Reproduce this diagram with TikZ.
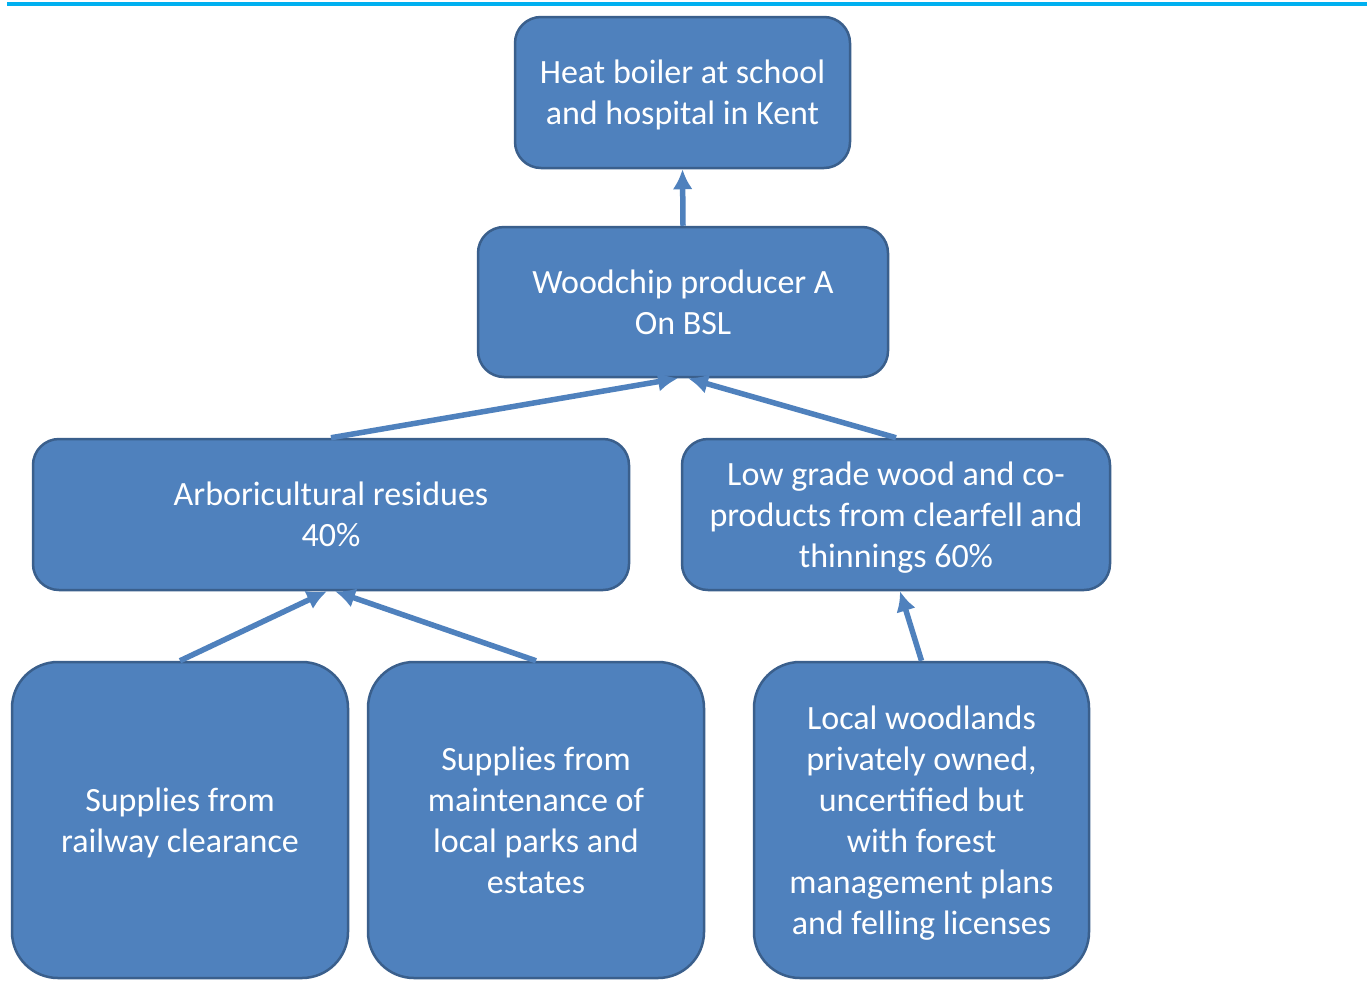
\documentclass[tikz,border=0pt]{standalone}
\usepackage{fontspec}
\setmainfont{Carlito}
\usetikzlibrary{arrows.meta}
\definecolor{boxfill}{HTML}{4F81BD}
\definecolor{boxline}{HTML}{3A5F8C}
\definecolor{topline}{HTML}{00B0F0}
\newcommand{\btxt}[1]{\raisebox{-3.5pt}[\height][\depth]{\begin{tabular}{@{}c@{}}#1\end{tabular}}}
\begin{document}
\begin{tikzpicture}[x=1pt,y=-1pt,
  box/.style={rectangle, rounded corners=26pt, fill=boxfill, draw=boxline, line width=2.5pt,
    text=white, inner sep=0pt,
    font=\fontsize{34}{41}\selectfont},
  bigbox/.style={box, rounded corners=46pt},
  conn/.style={draw=boxfill, line width=5.5pt, -{Latex[length=20pt,width=20pt]}}
]
\useasboundingbox (0,0) rectangle (1367,980);
\fill[white] (0,0) rectangle (1367,980);
\draw[topline, line width=4pt] (7,3.5) -- (1367,3.5);

\node[box, minimum width=335pt, minimum height=151pt] (heat) at (682.5,92.5)
  {\btxt{Heat boiler at school\\and hospital in Kent}};
\node[box, minimum width=410pt, minimum height=150pt] (wood) at (683,302)
  {\btxt{Woodchip producer A\\On BSL}};
\node[box, minimum width=596pt, minimum height=151pt] (arb) at (331,514.5)
  {\btxt{Arboricultural residues\\40\%}};
\node[box, minimum width=428pt, minimum height=151pt] (low) at (896,514.5)
  {\btxt{Low grade wood and co-\\products from clearfell and\\thinnings 60\%}};
\node[bigbox, minimum width=336pt, minimum height=316pt] (rail) at (180,820)
  {\btxt{Supplies from\\railway clearance}};
\node[bigbox, minimum width=336pt, minimum height=316pt] (parks) at (536,820)
  {\btxt{Supplies from\\maintenance of\\local parks and\\estates}};
\node[bigbox, minimum width=335pt, minimum height=316pt] (woods) at (921.5,820)
  {\btxt{Local woodlands\\privately owned,\\uncertified but\\with forest\\management plans\\and felling licenses}};

\draw[conn] (wood.north) -- (heat.south);
\draw[conn] (arb.north) -- ([xshift=-5pt]wood.south);
\draw[conn] (low.north) -- ([xshift=5pt]wood.south);
\draw[conn] (rail.north) -- ([xshift=-4pt]arb.south);
\draw[conn] (parks.north) -- ([xshift=4pt]arb.south);
\draw[conn] (woods.north) -- ([xshift=4pt]low.south);
\end{tikzpicture}
\end{document}
